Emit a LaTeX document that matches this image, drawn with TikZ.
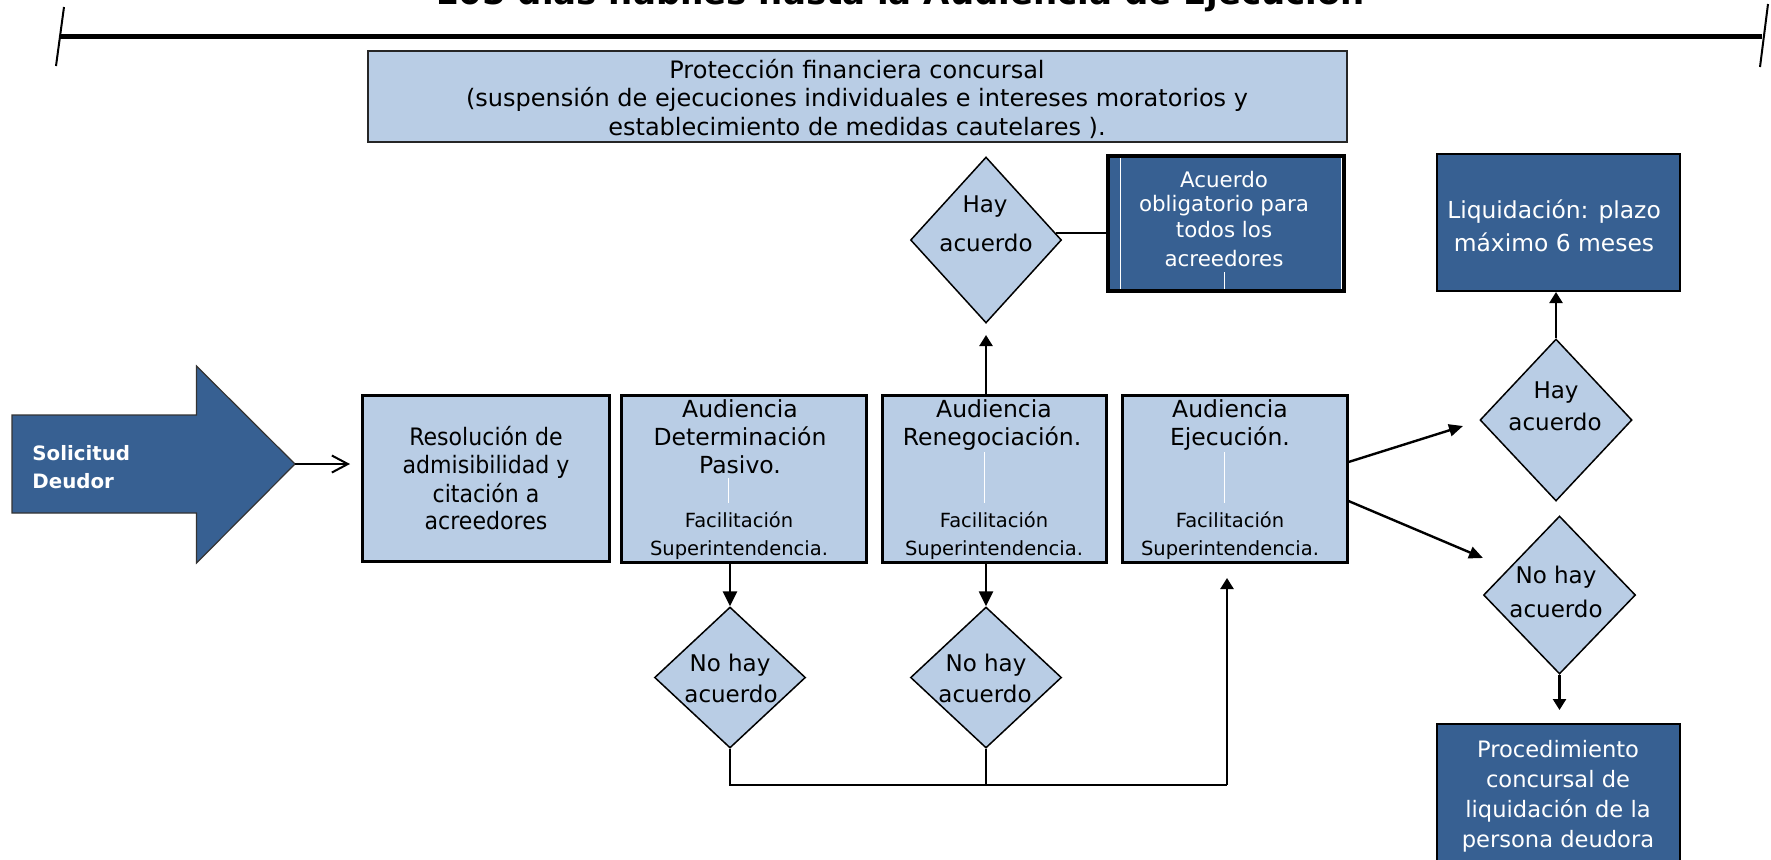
\documentclass[tikz,border=0pt]{standalone}
\usepackage{fontspec}
\setmainfont{DejaVu Sans}
\newfontfamily\resfont{DejaVu Sans}[FakeStretch=0.92]
\usetikzlibrary{arrows.meta,shapes.geometric}
\definecolor{lb}{HTML}{B9CDE5}
\definecolor{db}{HTML}{376092}
\newcommand{\myfs}[1]{\fontsize{#1}{#1}\selectfont}
\begin{document}
\begin{tikzpicture}[x=0.5pt,y=-0.5pt,
  lbox/.style={draw=black,line width=1.5pt,fill=lb,inner sep=0pt},
  dbox/.style={draw=black,fill=db,inner sep=0pt},
  dia/.style={diamond,draw=black,line width=0.75pt,fill=lb,inner sep=0pt},
  ln/.style={inner sep=0pt,anchor=base},
  big/.style={font=\myfs{11.5pt}},
  small/.style={font=\myfs{9.75pt}},
  restxt/.style={font=\resfont\myfs{12pt}},
  wtxt/.style={text=white,font=\myfs{11.3pt}},
  wl/.style={draw=white,line width=0.5pt},
  conn/.style={line width=1pt},
  arr/.style={line width=1.3pt,-{Triangle[length=7.5pt,width=7pt]}},
  sarr/.style={line width=1.2pt,-{Triangle[length=5.5pt,width=6.5pt]}},
  darr/.style={line width=1.2pt,-{Triangle[length=7pt,width=6pt]}}]
\useasboundingbox (0,0) rectangle (1771,859);
\clip (0,0) rectangle (1771,859);
\fill[white] (0,0) rectangle (1771,859);

% title and time line
\node[ln,font=\bfseries\myfs{17pt}] (title) at (900,4) {105 días hábiles hasta la Audiencia de Ejecución};
\draw[line width=2.5pt] (60,36.5) -- (1762,36.5);
\draw[line width=1pt] (64,7) -- (56,66);
\draw[line width=1pt] (1768,4) -- (1760,67);

% protection box
\node[draw=black!85,line width=1pt,fill=lb,minimum width=489.5pt,minimum height=45.5pt,inner sep=0pt] (prot) at (857.5,96.5) {};
\node[ln,font=\myfs{12pt}] (p1) at (857,78) {Protección financiera concursal};
\node[ln,font=\myfs{12pt}] (p2) at (857,106.5) {(suspensión de ejecuciones individuales e intereses moratorios y};
\node[ln,font=\myfs{12pt}] (p3) at (857,135.5) {establecimiento de medidas cautelares ).};

% solicitud arrow
\draw[fill=db,draw=black!80,line width=0.6pt] (12,415) -- (196.5,415) -- (196.5,366) -- (295,464) -- (196.5,563) -- (196.5,513) -- (12,513) -- cycle;
\coordinate (solTip) at (295,464);
\node[inner sep=0pt,anchor=base west,font=\bfseries\myfs{9.9pt},text=white] (sol1) at (32,460) {Solicitud};
\node[inner sep=0pt,anchor=base west,font=\bfseries\myfs{9.9pt},text=white] (sol2) at (32,488) {Deudor};

% resolucion
\node[lbox,minimum width=123.5pt,minimum height=83pt] (res) at (485.5,478) {};
\coordinate (resIn) at (350,464);
\draw[line width=1pt,-{Straight Barb[length=8pt,width=8.5pt]}] (solTip) -- (resIn);
\node[ln,restxt] (r1) at (486,445) {Resolución de};
\node[ln,restxt] (r2) at (486,473.5) {admisibilidad y};
\node[ln,restxt] (r3) at (486,502) {citación a};
\node[ln,restxt] (r4) at (486,529.5) {acreedores};

% audiencias
\node[lbox,minimum width=122.25pt,minimum height=83.5pt] (b2) at (743.75,478.5) {};
\node[lbox,minimum width=112pt,minimum height=83.5pt] (b3) at (994,478.5) {};
\node[lbox,minimum width=112.25pt,minimum height=83.5pt] (b4) at (1234.75,478.5) {};

\node[ln,font=\myfs{11.75pt}] (b2a) at (740,417) {Audiencia};
\node[ln,font=\myfs{11.75pt}] (b2b) at (740,445) {Determinación};
\node[ln,font=\myfs{11.75pt}] (b2c) at (740,473) {Pasivo.};
\node[ln,small] (b2d) at (739,527) {Facilitación};
\node[ln,small] (b2e) at (739,555) {Superintendencia.};

\node[ln,font=\myfs{11.75pt}] (b3a) at (994,417) {Audiencia};
\node[ln,font=\myfs{11.75pt}] (b3b) at (992,445) {Renegociación.};
\node[ln,small] (b3d) at (994,527) {Facilitación};
\node[ln,small] (b3e) at (994,555) {Superintendencia.};

\node[ln,font=\myfs{11.75pt}] (b4a) at (1230,417) {Audiencia};
\node[ln,font=\myfs{11.75pt}] (b4b) at (1230,445) {Ejecución.};
\node[ln,small] (b4d) at (1230,527) {Facilitación};
\node[ln,small] (b4e) at (1230,555) {Superintendencia.};

\draw[wl] (728,478) -- (728,503);
\draw[wl] (984,452) -- (984,503);
\draw[wl] (1224,452) -- (1224,503);

% hay acuerdo (top)
\node[dia,minimum width=75.5pt,minimum height=83pt] (hay1) at (986,240) {};
\node[ln,big] (h1a) at (985,212) {Hay};
\node[ln,big] (h1b) at (986,251) {acuerdo};

% acuerdo obligatorio
\node[dbox,line width=2pt,minimum width=118.25pt,minimum height=67.5pt] (acu) at (1226,223.5) {};
\draw[wl] (1120,158) -- (1120,289);
\draw[wl] (1341,158) -- (1341,289);
\draw[wl] (1224,272) -- (1224,289);
\node[ln,text=white,font=\myfs{10.7pt}] (a1) at (1224,187) {Acuerdo};
\node[ln,text=white,font=\myfs{10.7pt}] (a2) at (1224,211) {obligatorio para};
\node[ln,text=white,font=\myfs{10.7pt}] (a3) at (1224,237) {todos los};
\node[ln,text=white,font=\myfs{10.7pt}] (a4) at (1224,266.7) {acreedores};
\draw[conn] (hay1.6.7) -- (hay1.6.7 -| acu.west);

\coordinate (upA) at (986,335);
\draw[sarr] (b3.north -| hay1.south) -- (upA);

% no hay acuerdo (middle)
\node[dia,minimum width=75.5pt,minimum height=70.5pt] (nh1) at (730,677.5) {};
\node[ln,big] (n1a) at (730,671) {No hay};
\node[ln,big] (n1b) at (731,702) {acuerdo};
\node[dia,minimum width=75.5pt,minimum height=70.5pt] (nh2) at (986,677.5) {};
\node[ln,big] (n2a) at (986,671) {No hay};
\node[ln,big] (n2b) at (985,702) {acuerdo};

\draw[arr] (b2.south -| nh1.north) -- (nh1.north);
\draw[arr] (b3.south -| nh2.north) -- (nh2.north);
\coordinate (bj) at (1227,785);
\coordinate (upB) at (1227,578);
\draw[conn] (nh1.south) |- (bj);
\draw[conn] (nh2.south) -- (nh2.south |- bj);
\draw[sarr] (bj) -- (upB);

% right side
\node[dbox,line width=1pt,minimum width=121.5pt,minimum height=68.5pt] (liq) at (1558.5,222.5) {};
\node[ln,text=white,font=\myfs{11.7pt}] (l1) at (1554,218) {Liquidación: plazo};
\node[ln,text=white,font=\myfs{11.7pt}] (l2) at (1554,251) {máximo 6 meses};

\node[dia,minimum width=76pt,minimum height=81pt] (hay2) at (1556,420) {};
\node[ln,big] (h2a) at (1556,398) {Hay};
\node[ln,big] (h2b) at (1555,430) {acuerdo};
\draw[sarr] (hay2.north) -- (liq.south -| hay2.north);

\node[dia,minimum width=76pt,minimum height=79pt] (nh3) at (1559.5,595) {};
\node[ln,big] (n3a) at (1556,583) {No hay};
\node[ln,big] (n3b) at (1556,617) {acuerdo};
\coordinate (dnTip) at (1559.5,710);
\draw[sarr] (nh3.south) -- (dnTip);

\node[dbox,line width=1pt,minimum width=121.5pt,minimum height=78pt] (proc) at (1558.5,802) {};
\node[ln,wtxt] (q1) at (1558,757) {Procedimiento};
\node[ln,wtxt] (q2) at (1558,787) {concursal de};
\node[ln,wtxt] (q3) at (1558,817) {liquidación de la};
\node[ln,wtxt] (q4) at (1558,847) {persona deudora};

\coordinate (t1) at (1463,426);
\coordinate (t2) at (1483,558);
\draw[darr] ([shift={(0,-16.5)}]b4.east) -- (t1);
\draw[darr] ([shift={(0,22.5)}]b4.east) -- (t2);
\end{tikzpicture}
\end{document}
